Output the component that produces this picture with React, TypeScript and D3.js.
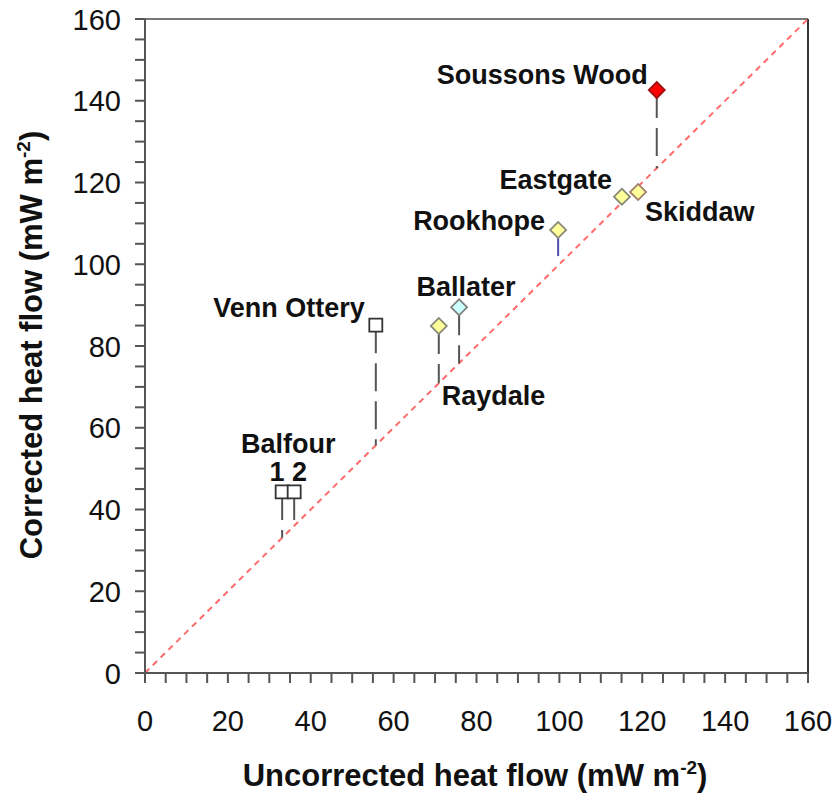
import React from "react";
import * as d3 from "d3";

const sites = ["Soussons Wood", "Eastgate", "Skiddaw", "Rookhope", "Ballater", "Raydale", "Venn Ottery", "Balfour 1", "Balfour 2"];
const uncorrected = [123.5, 115.1, 119.0, 99.7, 75.8, 70.9, 55.7, 33.1, 36.0];
const corrected = [142.6, 116.5, 117.7, 108.4, 89.5, 84.9, 85.1, 44.3, 44.3];
const dropTo: (number | null)[] = [123.5, null, null, 102.0, 75.8, 70.9, 55.7, 33.1, 36.0];
const majorTicks = [0, 20, 40, 60, 80, 100, 120, 140, 160];
const minorTicks = d3.range(0, 161, 5);

// styles
const shapes = ["diamond", "diamond", "diamond", "diamond", "diamond", "diamond", "square", "square", "square"];
const fills = ["#ff0000", "#ffff99", "#ffff99", "#ffff99", "#ccffff", "#ffff99", "#ffffff", "#ffffff", "#ffffff"];
const strokes = ["#a01010", "#888878", "#a08070", "#8a8a7a", "#808080", "#8a8a7a", "#333333", "#333333", "#333333"];
const dropStyle = ["dash", null, null, "solid", "dash", "dash", "dash", "dash", "dash"];

// label layout relative to the point
const labelLayout: { i: number; text: string; anchor: string; dx: number; dy: number }[] = [
  { i: 0, text: "Soussons Wood", anchor: "end", dx: -9, dy: -6 },
  { i: 1, text: "Eastgate", anchor: "end", dx: -10, dy: -8 },
  { i: 2, text: "Skiddaw", anchor: "start", dx: 7, dy: 29 },
  { i: 3, text: "Rookhope", anchor: "end", dx: -13, dy: 0 },
  { i: 4, text: "Ballater", anchor: "middle", dx: 7, dy: -11 },
  { i: 5, text: "Raydale", anchor: "start", dx: 3, dy: 79 },
  { i: 6, text: "Venn Ottery", anchor: "end", dx: -11, dy: -8 },
];

const W = 836;
const H = 798;
const FONT = "'Liberation Sans', Arial, Helvetica, sans-serif";

export default function App() {
  const x = d3.scaleLinear().domain([0, 160]).range([145, 808]);
  const y = d3.scaleLinear().domain([0, 160]).range([673, 19]);

  const diamond = d3.symbol().type(d3.symbolSquare).size(128);
  const square = d3.symbol().type(d3.symbolSquare).size(169);

  const balfourMidX = (x(uncorrected[7]) + x(uncorrected[8])) / 2;
  const balfourY = y(corrected[7]);

  return (
    <svg width={W} height={H} style={{ position: "absolute", left: 0, top: 0, background: "#fff" }} fontFamily={FONT}>
      <rect x={0} y={0} width={W} height={H} fill="#ffffff" />
      {/* frame */}
      <line x1={x(0)} x2={x(160)} y1={y(160)} y2={y(160)} stroke="#777" strokeWidth={2} />
      <line x1={x(160)} x2={x(160)} y1={y(160)} y2={y(0)} stroke="#333" strokeWidth={2} />

      {/* diagonal 1:1 */}
      <line x1={x(0)} y1={y(0)} x2={x(160)} y2={y(160)} stroke="#ff6a6a" strokeWidth={2} strokeDasharray="6,5" />

      {/* drop lines */}
      {sites.map((s, i) =>
        dropTo[i] === null ? null : (
          <line
            key={"d" + s}
            x1={x(uncorrected[i])}
            x2={x(uncorrected[i])}
            y1={y(corrected[i])}
            y2={y(dropTo[i] as number)}
            stroke={dropStyle[i] === "solid" ? "#5050a8" : "#555"}
            strokeWidth={2}
            strokeDasharray={dropStyle[i] === "solid" ? undefined : "28,10"}
          />
        )
      )}

      {/* markers */}
      {sites.map((s, i) => (
        <path
          key={"m" + s}
          d={(shapes[i] === "square" ? square() : diamond()) as string}
          transform={`translate(${x(uncorrected[i])},${y(corrected[i])})${shapes[i] === "diamond" ? " rotate(45)" : ""}`}
          fill={fills[i]}
          stroke={strokes[i]}
          strokeWidth={1.8}
        />
      ))}

      {/* labels */}
      {labelLayout.map((l) => (
        <text
          key={"l" + l.i}
          x={x(uncorrected[l.i]) + l.dx}
          y={y(corrected[l.i]) + l.dy}
          textAnchor={l.anchor}
          fontSize={27}
          fontWeight="bold"
          fill="#111"
        >
          {l.text}
        </text>
      ))}
      <text x={balfourMidX} y={balfourY - 39} textAnchor="middle" fontSize={27} fontWeight="bold" fill="#111">
        Balfour
      </text>
      <text x={balfourMidX} y={balfourY - 11} textAnchor="middle" fontSize={27} fontWeight="bold" fill="#111">
        1 2
      </text>

      {/* axes */}
      <line x1={x(0)} x2={x(160)} y1={y(0)} y2={y(0)} stroke="#555" strokeWidth={2} />
      <line x1={x(0)} x2={x(0)} y1={y(0)} y2={y(160)} stroke="#555" strokeWidth={2} />
      {minorTicks.map((t) => (
        <g key={"t" + t}>
          <line x1={x(t)} x2={x(t)} y1={y(0)} y2={y(0) + 10} stroke="#555" strokeWidth={2} />
          <line x1={x(0) - 10} x2={x(0)} y1={y(t)} y2={y(t)} stroke="#555" strokeWidth={2} />
        </g>
      ))}
      {majorTicks.map((t) => (
        <g key={"L" + t}>
          <text x={x(t)} y={731} textAnchor="middle" fontSize={29} fill="#111">
            {t}
          </text>
          <text x={121} y={y(t) + 10.5} textAnchor="end" fontSize={29} fill="#111">
            {t}
          </text>
        </g>
      ))}

      {/* axis titles */}
      <text x={475} y={786} textAnchor="middle" fontSize={31} fontWeight="bold" fill="#111">
        Uncorrected heat flow (mW m<tspan dy={-12} fontSize={19}>-2</tspan>
        <tspan dy={12}>)</tspan>
      </text>
      <text
        transform={`translate(42,345) rotate(-90)`}
        textAnchor="middle"
        fontSize={31}
        fontWeight="bold"
        fill="#111"
      >
        Corrected heat flow (mW m<tspan dy={-12} fontSize={19}>-2</tspan>
        <tspan dy={12}>)</tspan>
      </text>
    </svg>
  );
}
